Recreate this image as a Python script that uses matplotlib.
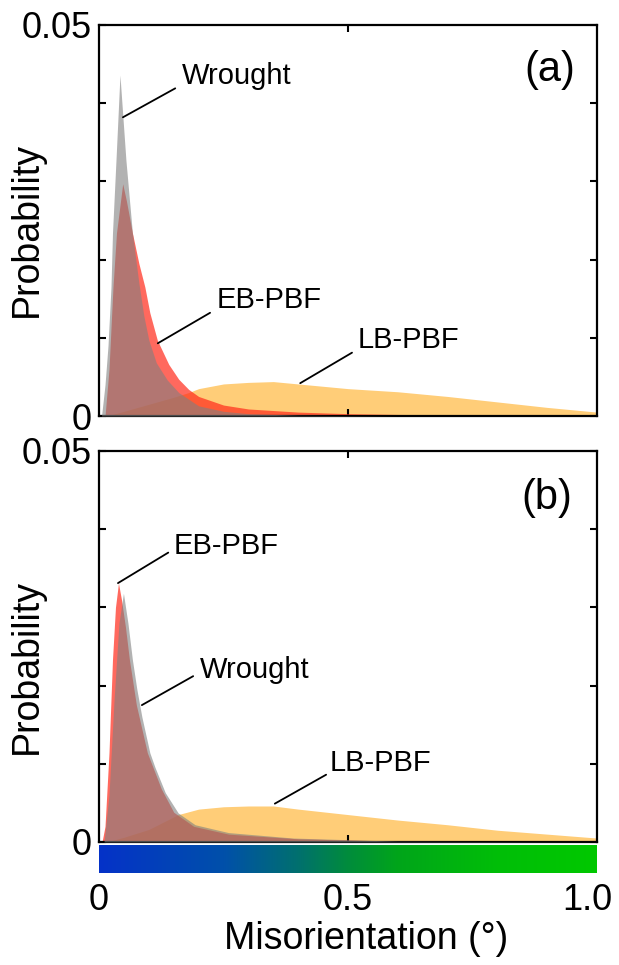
import matplotlib
matplotlib.use("Agg")
import matplotlib.pyplot as plt
import matplotlib.transforms as mtransforms
import numpy as np
from matplotlib.colors import LinearSegmentedColormap

plt.rcParams['font.family'] = ['Liberation Sans', 'DejaVu Sans']

# panel (a)
wrought_a_x = [0.0, 0.005, 0.012, 0.018, 0.024, 0.027, 0.034, 0.042, 0.054, 0.067, 0.08, 0.09,
               0.1, 0.115, 0.137, 0.16, 0.2, 0.25, 0.3, 0.4, 0.6, 1.0]
wrought_a_y = [0.0, 0.0, 0.004, 0.009, 0.0165, 0.0234, 0.0327, 0.0436, 0.0327, 0.0234, 0.017, 0.0128,
               0.0097, 0.0068, 0.0046, 0.003, 0.0013, 0.0006, 0.0003, 0.0001, 0.0, 0.0]
eb_a_x = [0.0, 0.012, 0.02, 0.028, 0.035, 0.0475, 0.055, 0.067, 0.08, 0.092, 0.102, 0.117, 0.14,
          0.16, 0.18, 0.2, 0.25, 0.3, 0.4, 0.5, 0.6, 0.8, 1.0]
eb_a_y = [0.0, 0.0, 0.006, 0.0165, 0.0234, 0.0297, 0.0275, 0.0234, 0.0195, 0.0165, 0.0132, 0.0097, 0.0066,
          0.0047, 0.0034, 0.0025, 0.0014, 0.0009, 0.0005, 0.0003, 0.0002, 0.0001, 0.0]
lb_a_x = [0.0, 0.015, 0.05, 0.1, 0.15, 0.18, 0.2, 0.25, 0.3, 0.35, 0.4, 0.45, 0.5, 0.6, 0.7, 0.8, 0.9, 1.0]
lb_a_y = [0.0, 0.0, 0.0006, 0.0015, 0.0024, 0.003, 0.0035, 0.0041, 0.0043, 0.0044, 0.0041, 0.0038,
          0.0035, 0.0031, 0.0025, 0.0018, 0.0011, 0.0005]

# panel (b)
eb_b_x = [0.0, 0.006, 0.012, 0.02, 0.027, 0.033, 0.039, 0.045, 0.053, 0.061, 0.075, 0.097, 0.125,
          0.15, 0.19, 0.26, 0.4, 0.6, 1.0]
eb_b_y = [0.0, 0.0, 0.002, 0.0114, 0.0233, 0.030, 0.0331, 0.031, 0.0275, 0.0233, 0.0175, 0.0114, 0.0068,
          0.0038, 0.002, 0.001, 0.0004, 0.0001, 0.0]
wrought_b_x = [0.0, 0.01, 0.02, 0.03, 0.04, 0.049, 0.058, 0.067, 0.076, 0.086, 0.102, 0.112, 0.133,
               0.159, 0.193, 0.26, 0.39, 0.6, 1.0]
wrought_b_y = [0.0, 0.0, 0.006, 0.018, 0.028, 0.0318, 0.028, 0.0233, 0.0195, 0.016, 0.0114, 0.0096, 0.0063,
               0.0037, 0.0022, 0.0012, 0.0005, 0.0001, 0.0]
lb_b_x = [0.0, 0.015, 0.05, 0.1, 0.159, 0.2, 0.25, 0.3, 0.35, 0.4, 0.5, 0.6, 0.7, 0.8, 0.9, 1.0]
lb_b_y = [0.0, 0.0, 0.0006, 0.0016, 0.0035, 0.0042, 0.0045, 0.0046, 0.0046, 0.0042, 0.0035, 0.0028,
          0.0022, 0.0015, 0.001, 0.0005]

fs_tick = 26
fs_label = 27
fs_note = 21

fig = plt.figure(figsize=(6.19, 9.65), dpi=100)
ax_a = fig.add_axes([0.160, 0.5689, 0.8045, 0.4052])
ax_b = fig.add_axes([0.160, 0.1275, 0.8045, 0.4052])
ax_c = fig.add_axes([0.160, 0.0953, 0.8045, 0.029])


def draw_panel(ax, lb, eb, wr, label_y):
    ax.fill_between(lb[0], lb[1], color='#FFCD78', lw=0, zorder=1)
    ax.fill_between(eb[0], eb[1], color='#FF2A1A', alpha=0.7, lw=0, zorder=2)
    ax.fill_between(wr[0], wr[1], color='#808080', alpha=0.6, lw=0, zorder=3)
    ax.set_xlim(0, 1)
    ax.set_ylim(0, 0.05)
    ax.set_xticks([0.5])
    ax.set_yticks([0, 0.05])
    ax.set_yticklabels(['0', '0.05'], fontsize=fs_tick)
    ax.set_yticks([0.01, 0.02, 0.03, 0.04], minor=True)
    ax.tick_params(which='both', direction='in', top=True, right=True, width=1.5, length=5,
                   labelbottom=False, pad=5)
    for s in ax.spines.values():
        s.set_linewidth(1.6)
    ax.set_ylabel('Probability', fontsize=fs_label)
    ax.yaxis.set_label_coords(-0.108, label_y)


def note(ax, s, text_xy, start, tip):
    ax.text(text_xy[0], text_xy[1], s, fontsize=fs_note, ha='left', va='center', zorder=5)
    ax.annotate('', xy=tip, xytext=start,
                arrowprops=dict(arrowstyle='-', lw=1.3, color='black', shrinkA=0, shrinkB=0), zorder=5)


draw_panel(ax_a, (lb_a_x, lb_a_y), (eb_a_x, eb_a_y), (wrought_a_x, wrought_a_y), 0.478)
note(ax_a, 'Wrought', (0.167, 0.0435), (0.153, 0.0419), (0.048, 0.0382))
note(ax_a, 'EB-PBF', (0.237, 0.0148), (0.223, 0.0132), (0.118, 0.0093))
note(ax_a, 'LB-PBF', (0.52, 0.0097), (0.508, 0.0081), (0.404, 0.0042))
ax_a.text(0.906, 0.0442, '(a)', fontsize=30, ha='center', va='center')

draw_panel(ax_b, (lb_b_x, lb_b_y), (eb_b_x, eb_b_y), (wrought_b_x, wrought_b_y), 0.45)
note(ax_b, 'EB-PBF', (0.149, 0.0379), (0.139, 0.037), (0.038, 0.0331))
note(ax_b, 'Wrought', (0.203, 0.022), (0.189, 0.0212), (0.086, 0.0175))
note(ax_b, 'LB-PBF', (0.464, 0.0101), (0.456, 0.0086), (0.353, 0.0049))
ax_b.text(0.90, 0.044, '(b)', fontsize=30, ha='center', va='center')

# misorientation colour scale
cmap = LinearSegmentedColormap.from_list('mis', [(0.0, '#0532C8'), (0.25, '#0050AA'), (0.4, '#00706E'),
                                                 (0.5, '#008C3C'), (0.6, '#00A51A'), (0.8, '#00BE08'),
                                                 (1.0, '#00C800')])
ax_c.imshow(np.linspace(0, 1, 256)[None, :], cmap=cmap, aspect='auto', extent=[0, 1, 0, 1])
ax_c.set_xlim(0, 1)
ax_c.set_yticks([])
ax_c.set_xticks([0, 0.5, 1.0])
ax_c.set_xticklabels(['0', '0.5', '1.0'], fontsize=fs_tick)
ax_c.tick_params(axis='x', length=0, pad=7)
for s in ax_c.spines.values():
    s.set_visible(False)
# last label sits a little inside the right edge
last = ax_c.get_xticklabels()[-1]
last.set_transform(last.get_transform() + mtransforms.ScaledTranslation(-7 / 72, 0, fig.dpi_scale_trans))
ax_c.set_xlabel('Misorientation (°)', fontsize=fs_label)
ax_c.xaxis.set_label_coords(0.536, -1.72)

fig.savefig('out.png', dpi=100)
